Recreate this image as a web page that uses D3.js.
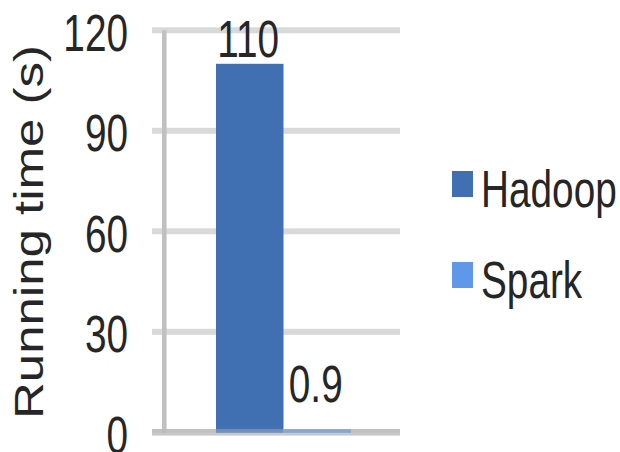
<!DOCTYPE html>
<html>
<head>
<meta charset="utf-8">
<script src="https://cdn.jsdelivr.net/npm/d3@7/dist/d3.min.js"></script>
<style>
  html, body { margin: 0; padding: 0; background: #fff; }
  svg { display: block; }
  text { font-family: "Liberation Sans", Arial, sans-serif; fill: #262626; }
</style>
</head>
<body>
<svg id="chart" width="620" height="452"></svg>
<script>
// ---- data ----
const categories = ["Hadoop", "Spark"];
const values = [110, 0.9];
const valueLabels = ["110", "0.9"];
const yTicks = [0, 30, 60, 90, 120];
const colors = ["#4070b2", "#5f98e8"];
const yTitle = "Running time (s)";

// ---- layout ----
const W = 620, H = 452;
const plotLeft = 152, plotRight = 400;
const fontSize = 51, squeeze = 0.76;

const svg = d3.select("#chart");

const y = d3.scaleLinear().domain([0, 120]).range([432.3, 30.3]);
const x = d3.scaleBand().domain(categories).range([216, 351]).padding(0);
const color = d3.scaleOrdinal().domain(categories).range(colors);

// gridlines (non-zero)
svg.append("g").selectAll("rect")
  .data(yTicks.filter(t => t !== 0))
  .join("rect")
  .attr("x", plotLeft)
  .attr("width", plotRight - plotLeft)
  .attr("y", d => y(d) - 3)
  .attr("height", 6)
  .attr("fill", "#d9d9d9");

// zero line base
svg.append("rect")
  .attr("x", plotLeft).attr("width", plotRight - plotLeft)
  .attr("y", y(0) - 3.3).attr("height", 6.6)
  .attr("fill", "#c8c8c8");

// vertical axis line
svg.append("rect")
  .attr("x", 162).attr("width", 4.6)
  .attr("y", y(120)).attr("height", y(0) - y(120) + 1)
  .attr("fill", "#c0c0c0");

// bars
svg.append("g").selectAll("rect")
  .data(categories)
  .join("rect")
  .attr("x", d => x(d))
  .attr("width", x.bandwidth())
  .attr("y", (d, i) => y(values[i]))
  .attr("height", (d, i) => y(0) + 0.4 - y(values[i]))
  .attr("fill", d => color(d));

// zero line overlay on bars
svg.append("rect")
  .attr("x", plotLeft).attr("width", plotRight - plotLeft)
  .attr("y", y(0) - 3.3).attr("height", 3.7)
  .attr("fill", "#b8b8b8").attr("opacity", 0.45);

// y axis tick labels
const yAxis = d3.axisLeft(y).tickValues(yTicks).tickSize(0).tickPadding(0).tickFormat(d3.format("d"));
const ag = svg.append("g").attr("transform", "translate(128,0)").call(yAxis);
ag.select(".domain").remove();
ag.selectAll("text")
  .attr("x", 0).attr("dy", null).attr("y", 20)
  .attr("text-anchor", "end")
  .attr("transform", `scale(${squeeze},1)`)
  .style("font-size", fontSize + "px")
  .style("font-family", '"Liberation Sans", Arial, sans-serif')
  .attr("fill", "#262626");

// data labels
svg.append("g").selectAll("text")
  .data(categories)
  .join("text")
  .attr("text-anchor", "middle")
  .style("font-size", fontSize + "px")
  .attr("transform", (d, i) => {
    const cx = x(d) + x.bandwidth() / 2 - 1.5;
    const by = Math.min(y(values[i]) - 7, y(0) - 30);
    return `translate(${cx},${by}) scale(${squeeze},1)`;
  })
  .text((d, i) => valueLabels[i]);

// y axis title
svg.append("text")
  .attr("text-anchor", "middle")
  .style("font-size", "51px")
  .attr("transform", "translate(43,232) rotate(-90) scale(1,0.8)")
  .text(yTitle);

// legend
const legendY = [171, 262];
const lg = svg.append("g").selectAll("g")
  .data(categories)
  .join("g")
  .attr("transform", (d, i) => `translate(452,${legendY[i]})`);
lg.append("rect")
  .attr("width", 21).attr("height", 26)
  .attr("fill", d => color(d));
lg.append("text")
  .style("font-size", fontSize + "px")
  .attr("transform", `translate(29,36) scale(${squeeze},1)`)
  .text(d => d);
</script>
</body>
</html>
